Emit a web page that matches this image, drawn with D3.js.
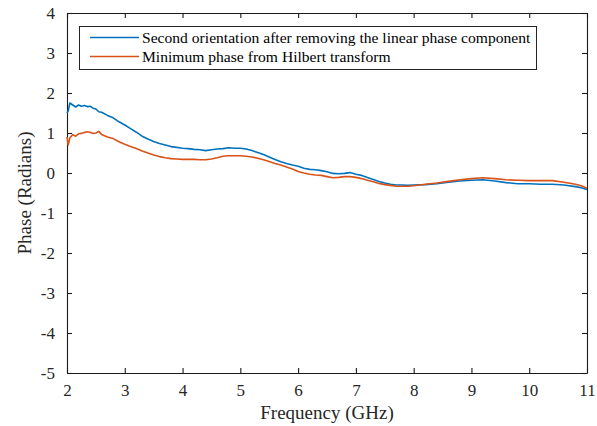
<!DOCTYPE html>
<html>
<head>
<meta charset="utf-8">
<script src="https://cdn.jsdelivr.net/npm/d3@7"></script>
<style>
  html, body { margin: 0; padding: 0; background: #fff; }
  svg { display: block; font-family: "Liberation Serif", "Times New Roman", serif; }
</style>
</head>
<body>
<svg id="chart" width="597" height="426"></svg>
<script>
// Frequency samples (GHz) shared by both phase curves
const freq = [2.00, 2.02, 2.05, 2.10, 2.15, 2.20, 2.25, 2.30, 2.35, 2.40, 2.45, 2.50, 2.55, 2.60,
  2.70, 2.80, 2.90, 3.00, 3.10, 3.20, 3.30, 3.40, 3.50, 3.60, 3.70, 3.80, 3.90, 4.00, 4.10, 4.20,
  4.30, 4.40, 4.50, 4.60, 4.70, 4.80, 4.90, 5.00, 5.10, 5.20, 5.30, 5.40, 5.50, 5.60, 5.70, 5.80,
  5.90, 6.00, 6.10, 6.20, 6.30, 6.40, 6.50, 6.60, 6.70, 6.80, 6.90, 7.00, 7.10, 7.20, 7.30, 7.40,
  7.50, 7.60, 7.70, 7.80, 7.90, 8.00, 8.20, 8.40, 8.60, 8.80, 9.00, 9.20, 9.40, 9.60, 9.80, 10.00,
  10.20, 10.40, 10.60, 10.80, 10.90, 11.00];

// Phase after removing the linear component (radians)
const phaseSecond = [1.50, 1.55, 1.75, 1.70, 1.65, 1.70, 1.67, 1.69, 1.66, 1.67, 1.62, 1.60, 1.53, 1.52,
  1.44, 1.38, 1.28, 1.20, 1.11, 1.02, 0.92, 0.85, 0.79, 0.74, 0.70, 0.66, 0.64, 0.62, 0.61, 0.59,
  0.58, 0.56, 0.58, 0.60, 0.61, 0.63, 0.62, 0.62, 0.60, 0.56, 0.51, 0.46, 0.40, 0.34, 0.28, 0.24,
  0.20, 0.17, 0.12, 0.09, 0.08, 0.06, 0.03, -0.01, -0.02, -0.01, 0.01, -0.03, -0.06, -0.11, -0.16, -0.21,
  -0.25, -0.28, -0.30, -0.30, -0.31, -0.30, -0.29, -0.27, -0.23, -0.20, -0.18, -0.17, -0.20, -0.24, -0.27, -0.27,
  -0.28, -0.28, -0.30, -0.34, -0.37, -0.41];

// Minimum phase obtained with the Hilbert transform (radians)
const phaseMinimum = [0.90, 0.70, 0.88, 0.96, 0.92, 0.98, 0.99, 1.01, 1.03, 1.02, 0.99, 1.00, 1.04, 0.96,
  0.90, 0.86, 0.78, 0.72, 0.66, 0.61, 0.55, 0.50, 0.45, 0.41, 0.38, 0.36, 0.35, 0.34, 0.34, 0.34,
  0.33, 0.33, 0.35, 0.38, 0.42, 0.43, 0.43, 0.43, 0.42, 0.40, 0.37, 0.33, 0.29, 0.24, 0.20, 0.15,
  0.10, 0.04, 0.00, -0.03, -0.05, -0.06, -0.09, -0.12, -0.11, -0.09, -0.09, -0.11, -0.14, -0.18, -0.22, -0.26,
  -0.29, -0.31, -0.33, -0.33, -0.33, -0.32, -0.28, -0.25, -0.21, -0.17, -0.14, -0.12, -0.14, -0.17, -0.18, -0.19,
  -0.19, -0.19, -0.23, -0.28, -0.32, -0.38];

const xTicks = [2, 3, 4, 5, 6, 7, 8, 9, 10, 11];
const yTicks = [-5, -4, -3, -2, -1, 0, 1, 2, 3, 4];
const seriesNames = ["Second orientation after removing the linear phase component",
                     "Minimum phase from Hilbert transform"];
const seriesColors = ["#0072BD", "#D95319"];

const svg = d3.select("#chart");
const margin = { left: 67, right: 10, top: 13, bottom: 53 };
const W = 597, H = 426;
const x = d3.scaleLinear().domain([2, 11]).range([margin.left, W - margin.right]);
const y = d3.scaleLinear().domain([-5, 4]).range([H - margin.bottom, margin.top]);

const tickLen = 5;
const serif = '"Liberation Serif", "Times New Roman", serif';
const fmt = d => String(d).replace("\u2212", "-");

// Axes: ticks point inward, mirrored on top and right
function styleAxis(g) {
  g.selectAll("path.domain").attr("stroke", "#1a1a1a").attr("stroke-width", 1.1);
  g.selectAll(".tick line").attr("stroke", "#1a1a1a").attr("stroke-width", 1.1);
  g.selectAll(".tick text").attr("fill", "#262626").style("font-size", "17px")
    .style("font-family", serif);
}

svg.append("g").attr("transform", `translate(0,${y(-5)})`)
  .call(d3.axisBottom(x).tickValues(xTicks).tickFormat(fmt).tickSizeInner(-tickLen).tickSizeOuter(0).tickPadding(11))
  .call(styleAxis);
svg.append("g").attr("transform", `translate(0,${y(4)})`)
  .call(d3.axisTop(x).tickValues(xTicks).tickFormat("").tickSizeInner(-tickLen).tickSizeOuter(0))
  .call(styleAxis);
svg.append("g").attr("transform", `translate(${x(2)},0)`)
  .call(d3.axisLeft(y).tickValues(yTicks).tickFormat(fmt).tickSizeInner(-tickLen).tickSizeOuter(0).tickPadding(12))
  .call(styleAxis);
svg.append("g").attr("transform", `translate(${x(11)},0)`)
  .call(d3.axisRight(y).tickValues(yTicks).tickFormat("").tickSizeInner(-tickLen).tickSizeOuter(0))
  .call(styleAxis);

// Curves
const line = d3.line().x(d => x(d[0])).y(d => y(d[1]));
[phaseSecond, phaseMinimum].forEach((vals, i) => {
  svg.append("path")
    .datum(freq.map((f, k) => [f, vals[k]]))
    .attr("fill", "none")
    .attr("stroke", seriesColors[i])
    .attr("stroke-width", 1.6)
    .attr("stroke-linejoin", "round")
    .attr("d", line);
});

// Axis titles
svg.append("text")
  .attr("x", (x(2) + x(11)) / 2).attr("y", 419)
  .attr("text-anchor", "middle").attr("fill", "#262626")
  .style("font-size", "19px").text("Frequency (GHz)");
svg.append("text")
  .attr("transform", `translate(31,${(y(4) + y(-5)) / 2}) rotate(-90)`)
  .attr("text-anchor", "middle").attr("fill", "#262626")
  .style("font-size", "19px").text("Phase (Radians)");

// Legend
const legend = svg.append("g");
legend.append("rect")
  .attr("x", 79.5).attr("y", 26.5).attr("width", 457).attr("height", 43)
  .attr("fill", "#fff").attr("stroke", "#262626").attr("stroke-width", 1);
seriesNames.forEach((name, i) => {
  const ly = 37.5 + i * 19;
  legend.append("line")
    .attr("x1", 90).attr("x2", 139).attr("y1", ly).attr("y2", ly)
    .attr("stroke", seriesColors[i]).attr("stroke-width", 1.6);
  legend.append("text")
    .attr("x", 142).attr("y", ly).attr("dy", "0.35em")
    .attr("fill", "#000").style("font-size", "15.6px").text(name);
});
</script>
</body>
</html>
